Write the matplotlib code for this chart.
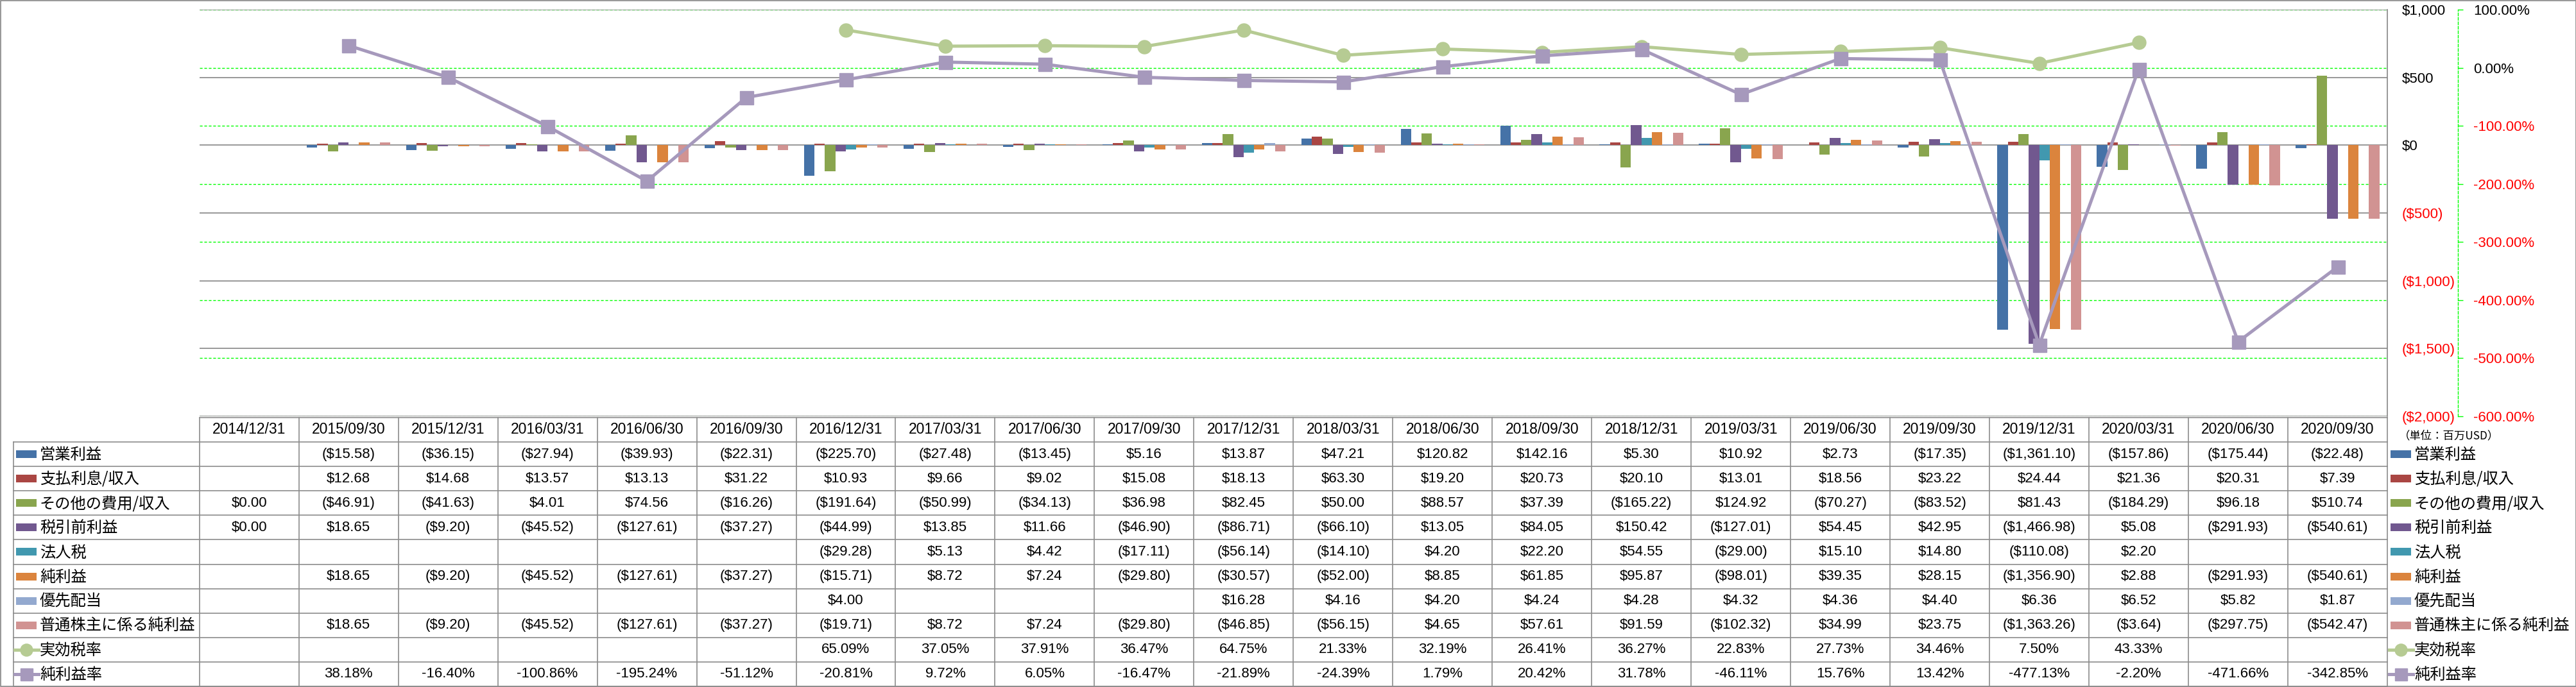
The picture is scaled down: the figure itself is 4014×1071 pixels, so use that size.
import numpy as np
import matplotlib
matplotlib.use("Agg")
import matplotlib.pyplot as plt
from matplotlib.patches import Rectangle

plt.rcParams['font.family'] = ['Liberation Sans', 'Noto Sans CJK JP', 'DejaVu Sans']

nan = np.nan
dates = ["2014/12/31", "2015/09/30", "2015/12/31", "2016/03/31", "2016/06/30", "2016/09/30",
         "2016/12/31", "2017/03/31", "2017/06/30", "2017/09/30", "2017/12/31", "2018/03/31",
         "2018/06/30", "2018/09/30", "2018/12/31", "2019/03/31", "2019/06/30", "2019/09/30",
         "2019/12/31", "2020/03/31", "2020/06/30", "2020/09/30"]

op_income = [nan, -15.58, -36.15, -27.94, -39.93, -22.31, -225.70, -27.48, -13.45, 5.16, 13.87,
             47.21, 120.82, 142.16, 5.30, 10.92, 2.73, -17.35, -1361.10, -157.86, -175.44, -22.48]
interest = [nan, 12.68, 14.68, 13.57, 13.13, 31.22, 10.93, 9.66, 9.02, 15.08, 18.13,
            63.30, 19.20, 20.73, 20.10, 13.01, 18.56, 23.22, 24.44, 21.36, 20.31, 7.39]
other = [0.00, -46.91, -41.63, 4.01, 74.56, -16.26, -191.64, -50.99, -34.13, 36.98, 82.45,
         50.00, 88.57, 37.39, -165.22, 124.92, -70.27, -83.52, 81.43, -184.29, 96.18, 510.74]
pretax = [0.00, 18.65, -9.20, -45.52, -127.61, -37.27, -44.99, 13.85, 11.66, -46.90, -86.71,
          -66.10, 13.05, 84.05, 150.42, -127.01, 54.45, 42.95, -1466.98, 5.08, -291.93, -540.61]
tax = [nan, nan, nan, nan, nan, nan, -29.28, 5.13, 4.42, -17.11, -56.14,
       -14.10, 4.20, 22.20, 54.55, -29.00, 15.10, 14.80, -110.08, 2.20, nan, nan]
net = [nan, 18.65, -9.20, -45.52, -127.61, -37.27, -15.71, 8.72, 7.24, -29.80, -30.57,
       -52.00, 8.85, 61.85, 95.87, -98.01, 39.35, 28.15, -1356.90, 2.88, -291.93, -540.61]
pref_div = [nan, nan, nan, nan, nan, nan, 4.00, nan, nan, nan, 16.28,
            4.16, 4.20, 4.24, 4.28, 4.32, 4.36, 4.40, 6.36, 6.52, 5.82, 1.87]
common_net = [nan, 18.65, -9.20, -45.52, -127.61, -37.27, -19.71, 8.72, 7.24, -29.80, -46.85,
              -56.15, 4.65, 57.61, 91.59, -102.32, 34.99, 23.75, -1363.26, -3.64, -297.75, -542.47]
eff_tax = [nan, nan, nan, nan, nan, nan, 65.09, 37.05, 37.91, 36.47, 64.75,
           21.33, 32.19, 26.41, 36.27, 22.83, 27.73, 34.46, 7.50, 43.33, nan, nan]
net_margin = [nan, 38.18, -16.40, -100.86, -195.24, -51.12, -20.81, 9.72, 6.05, -16.47, -21.89,
              -24.39, 1.79, 20.42, 31.78, -46.11, 15.76, 13.42, -477.13, -2.20, -471.66, -342.85]

bar_names = ["営業利益", "支払利息/収入", "その他の費用/収入", "税引前利益", "法人税",
             "純利益", "優先配当", "普通株主に係る純利益"]
bar_data = [op_income, interest, other, pretax, tax, net, pref_div, common_net]
bar_colors = ['#4572A7', '#AA4643', '#89A54E', '#71588F', '#4198AF', '#DB843D', '#93A9CF', '#D19392']
line_names = ["実効税率", "純利益率"]
line_data = [eff_tax, net_margin]
line_colors = ['#B6CB93', '#A699BC']
line_markers = ['o', 's']

# figure in pixel units
W, H = 4014, 1071
fig = plt.figure(figsize=(W / 100, H / 100), dpi=100)
PT = 0.72  # points per pixel

pl, pr, pt, pb = 310.7, 3720, 15, 649
pos = [pl / W, 1 - pb / H, (pr - pl) / W, (pb - pt) / H]
n = len(dates)
x = np.arange(n)

# green dashed grid (secondary axis), behind everything
axg = fig.add_axes(pos, zorder=0)
axg.set_xlim(-0.5, n - 0.5)
axg.set_ylim(-6, 1)
for p in range(-6, 2):
    axg.axhline(p, color='#00FF00', lw=1.0, ls=(0, (3, 2)))
axg.axis('off')

# primary axis: bars
ax = fig.add_axes(pos, zorder=1)
ax.patch.set_visible(False)
ax.set_xlim(-0.5, n - 0.5)
ax.set_ylim(-2000, 1000)
yt = list(range(-2000, 1001, 500))
for v in yt:
    ax.axhline(v, color='#868686', lw=1.2, zorder=0.5)
w = 1 / 9.5
for j, (vals, c) in enumerate(zip(bar_data, bar_colors)):
    ax.bar(x + (j - 3.5) * w, np.nan_to_num(vals), width=w, color=c, zorder=2)
for s in ['left', 'top', 'bottom']:
    ax.spines[s].set_visible(False)
ax.spines['right'].set_color('#868686')
ax.spines['right'].set_linewidth(1.2)
ax.set_xticks([])

# secondary axis: lines
ax2 = ax.twinx()
ax2.set_zorder(2)
ax2.patch.set_visible(False)
ax2.set_ylim(-6, 1)
pt_ticks = list(range(-6, 2))
ax2.set_yticks(pt_ticks)
ax2.set_yticklabels([f"{p * 100:.2f}%" for p in pt_ticks])
for s in ['left', 'top', 'bottom']:
    ax2.spines[s].set_visible(False)
ax2.spines['right'].set_position(('outward', 110 * PT))
ax2.spines['right'].set_color('#00FF00')
ax2.spines['right'].set_linestyle((0, (3, 2)))
ax2.spines['right'].set_linewidth(1.0)
ax2.tick_params(axis='y', direction='out', length=8 * PT, width=1, color='#00FF00',
                pad=16 * PT, labelsize=16)
for lab, p in zip(ax2.get_yticklabels(), pt_ticks):
    lab.set_color('black' if p >= 0 else 'red')
for vals, c, m in zip(line_data, line_colors, line_markers):
    ax2.plot(x, np.array(vals) / 100, color=c, lw=5 * PT, marker=m, ms=21 * PT,
             mfc=c, mec=c, zorder=3)

# primary tick labels on the right (after twinx, which resets them to the left)
ax.yaxis.tick_right()
ax.set_yticks(yt)
ax.set_yticklabels([f"${v:,}" if v >= 0 else f"(${-v:,})" for v in yt])
ax.tick_params(axis='y', which='both', left=False, right=True, labelleft=False,
               labelright=True, length=0, pad=23 * PT, labelsize=16)
for lab, v in zip(ax.get_yticklabels(), yt):
    lab.set_color('black' if v >= 0 else 'red')

# data table drawn in pixel coordinates
axt = fig.add_axes([0, 0, 1, 1], zorder=5)
axt.patch.set_visible(False)
axt.set_xlim(0, W)
axt.set_ylim(H, 0)
axt.axis('off')

gray = '#8C8C8C'
cw = (pr - pl) / n
col_edges = pl + cw * np.arange(n + 1)
head_t, head_b = 651, 689
rh = (1070 - head_b) / 10
row_edges = head_b + rh * np.arange(11)
tl_left = 20.7

axt.plot([pl, pr], [head_t, head_t], color=gray, lw=1.2)
for yy in row_edges:
    axt.plot([tl_left, pr], [yy, yy], color=gray, lw=1.2)
axt.plot([tl_left, tl_left], [head_b, row_edges[-1]], color=gray, lw=1.2)
for xx in col_edges:
    axt.plot([xx, xx], [head_t, row_edges[-1]], color=gray, lw=1.2)
axt.add_patch(Rectangle((0.5, 0.5), W - 1, H - 1.5, fill=False, ec='#868686', lw=1.2))

for i, d in enumerate(dates):
    axt.text(col_edges[i] + cw / 2, (head_t + head_b) / 2, d, ha='center', va='center', fontsize=16.5)


def money(v):
    if np.isnan(v):
        return ""
    s = f"${abs(v):,.2f}"
    return f"({s})" if v < 0 else s


def pct(v):
    return "" if np.isnan(v) else f"{v:.2f}%"


rows = [(nm, vals, money) for nm, vals in zip(bar_names, bar_data)] + \
       [(nm, vals, pct) for nm, vals in zip(line_names, line_data)]
cjk = ['Noto Sans CJK JP', 'DejaVu Sans']

for k, (nm, vals, fmt) in enumerate(rows):
    yc = (row_edges[k] + row_edges[k + 1]) / 2
    for i, v in enumerate(vals):
        axt.text(col_edges[i] + cw / 2, yc, fmt(v), ha='center', va='center', fontsize=16)
    for kx, tx in [(25, 62), (3725, 3762)]:
        if k < len(bar_names):
            axt.add_patch(Rectangle((kx, yc - 6), 32, 12, color=bar_colors[k], lw=0))
        else:
            li = k - len(bar_names)
            axt.plot([kx - 2, kx + 35], [yc, yc], color=line_colors[li], lw=5 * PT)
            axt.plot([kx + 16], [yc], marker=line_markers[li], ms=19 * PT,
                     color=line_colors[li])
        axt.text(tx, yc + 1, nm, ha='left', va='center', fontsize=17.5, family=cjk)

axt.text(3738, 679, "（単位：百万USD）", ha='left', va='center', fontsize=12.5, family=cjk)

fig.savefig("out.png", dpi=100)
